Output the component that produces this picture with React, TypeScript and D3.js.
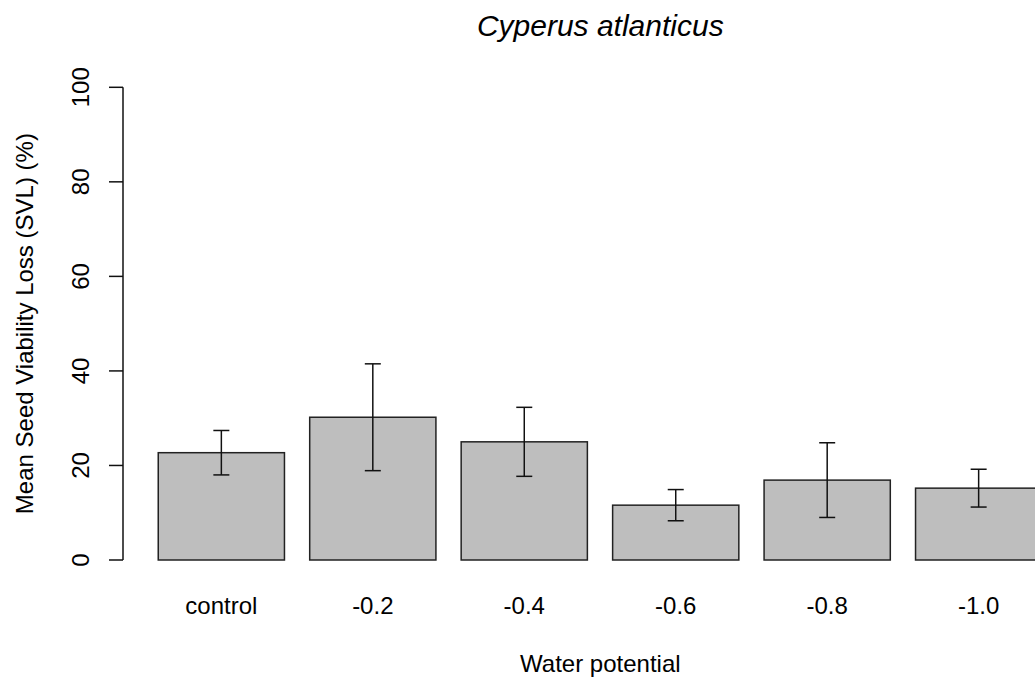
import { useRef, useEffect } from "react";
import * as d3 from "d3";

const categories = ["control", "-0.2", "-0.4", "-0.6", "-0.8", "-1.0"];
const meanSVL = [22.7, 30.2, 25.0, 11.6, 16.9, 15.2];
const seSVL = [4.7, 11.3, 7.3, 3.3, 7.9, 4.0];
const yTicks = [0, 20, 40, 60, 80, 100];

const width = 1035;
const height = 680;
const font = "'Liberation Sans', Arial, sans-serif";

export default function App() {
  const svgRef = useRef<SVGSVGElement>(null);

  useEffect(() => {
    if (!svgRef.current) return;
    const svg = d3.select(svgRef.current);
    svg.selectAll("*").remove();

    // R barplot geometry: width 1, space 0.2
    const x = d3
      .scaleBand<string>()
      .domain(categories)
      .range([133, 1067])
      .paddingInner(1 / 6)
      .paddingOuter(1 / 6);

    const y = d3.scaleLinear().domain([0, 100]).range([560, 87.3]);
    const plotLeft = 123;
    const plotCenter = 600.3;

    // bars
    svg
      .append("g")
      .selectAll("rect")
      .data(categories)
      .join("rect")
      .attr("x", (d) => x(d)!)
      .attr("y", (_, i) => y(meanSVL[i]))
      .attr("width", x.bandwidth())
      .attr("height", (_, i) => y(0) - y(meanSVL[i]))
      .attr("fill", "#bebebe")
      .attr("stroke", "#222")
      .attr("stroke-width", 1.5);

    // error bars
    const eb = svg.append("g").attr("stroke", "#111").attr("stroke-width", 1.5);
    categories.forEach((c, i) => {
      const cx = x(c)! + x.bandwidth() / 2;
      const lo = y(meanSVL[i] - seSVL[i]);
      const hi = y(meanSVL[i] + seSVL[i]);
      eb.append("line").attr("x1", cx).attr("x2", cx).attr("y1", lo).attr("y2", hi);
      eb.append("line").attr("x1", cx - 8).attr("x2", cx + 8).attr("y1", lo).attr("y2", lo);
      eb.append("line").attr("x1", cx - 8).attr("x2", cx + 8).attr("y1", hi).attr("y2", hi);
    });

    // y axis
    const ya = svg.append("g").attr("stroke", "#111").attr("stroke-width", 1.5);
    ya.append("line")
      .attr("x1", plotLeft)
      .attr("x2", plotLeft)
      .attr("y1", y(0))
      .attr("y2", y(100));
    yTicks.forEach((t) => {
      ya.append("line")
        .attr("x1", plotLeft - 14)
        .attr("x2", plotLeft)
        .attr("y1", y(t))
        .attr("y2", y(t));
      svg
        .append("text")
        .attr("transform", `translate(89,${y(t)}) rotate(-90)`)
        .attr("text-anchor", "middle")
        .attr("font-family", font)
        .attr("font-size", 24)
        .attr("fill", "#000")
        .text(t);
    });

    // category labels
    svg
      .append("g")
      .selectAll("text")
      .data(categories)
      .join("text")
      .attr("x", (d) => x(d)! + x.bandwidth() / 2)
      .attr("y", 614)
      .attr("text-anchor", "middle")
      .attr("font-family", font)
      .attr("font-size", 24)
      .attr("fill", "#000")
      .text((d) => d);

    // axis titles
    svg
      .append("text")
      .attr("x", plotCenter)
      .attr("y", 672)
      .attr("text-anchor", "middle")
      .attr("font-family", font)
      .attr("font-size", 24)
      .text("Water potential");

    svg
      .append("text")
      .attr("transform", `translate(33,${(y(-4) + y(104)) / 2}) rotate(-90)`)
      .attr("text-anchor", "middle")
      .attr("font-family", font)
      .attr("font-size", 24)
      .text("Mean Seed Viability Loss (SVL) (%)");

    svg
      .append("text")
      .attr("x", plotCenter)
      .attr("y", 36)
      .attr("text-anchor", "middle")
      .attr("font-family", font)
      .attr("font-size", 30)
      .attr("font-style", "italic")
      .text("Cyperus atlanticus");
  }, []);

  return (
    <svg
      ref={svgRef}
      width={width}
      height={height}
      style={{ position: "absolute", left: 0, top: 0, background: "#fff" }}
    />
  );
}
